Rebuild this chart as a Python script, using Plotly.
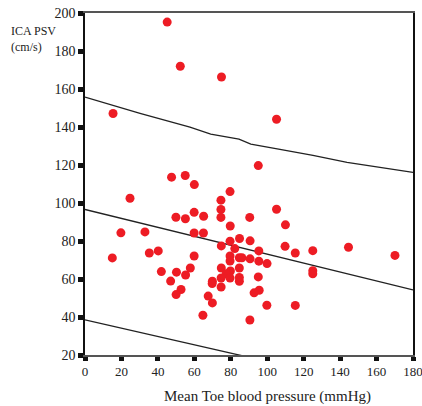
import plotly.graph_objects as go

# Scatter data: Mean toe blood pressure (mmHg) vs ICA PSV (cm/s)
toe_bp = [45.1, 52.3, 74.9, 105.1, 15.4,
          47.5, 55.0, 60.0, 24.7, 49.9, 55.1, 59.9, 19.7, 32.9, 59.9, 15.0, 35.3, 40.2, 59.9,
          41.9, 50.2, 55.2, 57.8, 47.0, 52.7, 50.0,
          95.1, 79.6, 74.6, 74.6, 74.6, 65.1, 90.4, 105.1, 110.0, 79.7, 65.0, 84.8, 79.6, 90.6,
          74.8, 82.2, 109.8, 115.4, 95.4, 79.6, 79.6, 84.7, 86.1, 90.6, 95.4, 99.9, 74.8, 84.7,
          79.8, 77.5, 74.7, 79.6, 84.7, 84.7, 95.1, 69.9, 69.8, 74.7, 95.6, 92.8, 67.6, 69.9,
          99.8, 115.4, 64.7, 90.5,
          125.0, 144.6, 170.1, 125.0, 125.0]
ica_psv = [195.2, 172.0, 166.3, 144.1, 147.1,
           113.6, 114.5, 109.7, 102.5, 92.5, 91.7, 95.1, 84.3, 84.8, 84.2, 71.1, 73.7, 74.8, 72.1,
           63.9, 63.6, 62.1, 65.8, 58.9, 54.5, 51.8,
           119.7, 106.0, 101.5, 96.6, 92.4, 93.0, 92.4, 96.7, 88.5, 87.9, 84.2, 81.3, 79.9, 80.1,
           77.4, 76.0, 77.2, 73.7, 74.8, 72.1, 69.5, 71.2, 71.2, 70.6, 69.4, 68.1, 65.8, 65.8,
           64.2, 62.7, 60.5, 60.5, 60.8, 58.8, 61.1, 58.8, 57.6, 55.8, 54.1, 52.7, 51.0, 47.4,
           46.2, 46.1, 40.9, 38.4,
           74.9, 76.7, 72.4, 64.4, 62.7]

# Regression line and prediction limits
fit_x = [0, 180]
fit_y = [96.6, 54.3]
upper_x = [0, 30.2, 57.6, 69.0, 84.5, 91.0, 107.0, 125.1, 143.8, 180]
upper_y = [155.7, 147.2, 139.9, 136.3, 133.6, 131.0, 128.2, 125.1, 121.4, 116.1]
lower_x = [0, 180]
lower_y = [38.5, -0.9]

x_ticks = [0, 20, 40, 60, 80, 100, 120, 140, 160, 180]
y_ticks = [20, 40, 60, 80, 100, 120, 140, 160, 180, 200]

FONT = "Liberation Serif"
LINE = "#222222"

fig = go.Figure()
for lx, ly in [(upper_x, upper_y), (fit_x, fit_y), (lower_x, lower_y)]:
    fig.add_trace(go.Scatter(x=lx, y=ly, mode="lines",
                             line=dict(color=LINE, width=1.3),
                             hoverinfo="skip", showlegend=False))
fig.add_trace(go.Scatter(x=toe_bp, y=ica_psv, mode="markers",
                         marker=dict(color="#ED1C24", size=9, line=dict(width=0)),
                         showlegend=False, cliponaxis=False))

fig.update_layout(
    width=422, height=406,
    margin=dict(l=85, r=9, t=13, b=51, autoexpand=False),
    paper_bgcolor="white", plot_bgcolor="white",
    font=dict(family=FONT, size=14, color="#222"),
    showlegend=False,
    xaxis=dict(range=[0, 180], tickvals=x_ticks, ticktext=[str(v) for v in x_ticks],
               showgrid=False, zeroline=False, showline=True, linecolor="#555", linewidth=1.5,
               mirror=True, ticks="outside", ticklen=4, tickwidth=5, tickcolor="#111",
               ticklabeloverflow="allow", automargin=False,
               tickfont=dict(size=13, family=FONT)),
    yaxis=dict(range=[20, 200], tickvals=y_ticks, ticktext=[str(v) for v in y_ticks],
               showgrid=False, zeroline=False, showline=True, linecolor="#111", linewidth=1.5,
               mirror=True, ticks="outside", ticklen=5, tickwidth=5, tickcolor="#111",
               ticklabeloverflow="allow", automargin=False,
               tickfont=dict(size=14, family=FONT)),
    annotations=[
        dict(text="ICA PSV<br>(cm/s)", xref="paper", yref="paper", x=-0.232, y=0.975,
             xanchor="left", yanchor="top", align="left", showarrow=False,
             font=dict(size=12, family=FONT, color="#222")),
        dict(text="Mean Toe blood pressure (mmHg)", xref="x", yref="paper", x=100, y=-0.12,
             xanchor="center", yanchor="middle", showarrow=False,
             font=dict(size=15, family=FONT, color="#222")),
    ],
)

# remove the default page margin so the figure sits at the window's top-left corner
fig.write_html("out.html", config={"displayModeBar": False},
               post_script="document.body.style.margin='0';document.body.style.overflow='hidden';")
